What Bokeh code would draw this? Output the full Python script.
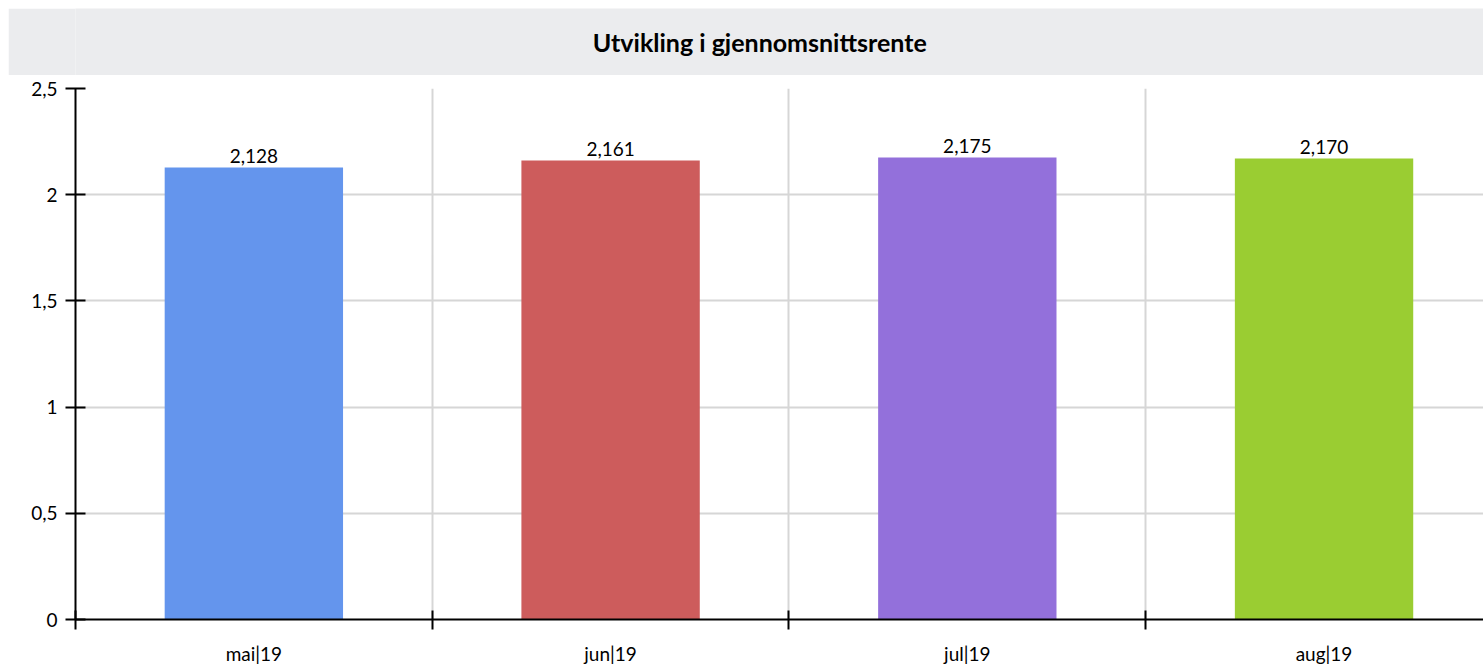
from bokeh.plotting import figure
from bokeh.models import FixedTicker, ColumnDataSource
from bokeh.layouts import column
from bokeh.embed import file_html
from bokeh.resources import INLINE
from bokeh.core.properties import value

title = "Utvikling i gjennomsnittsrente"
categories = ["mai|19", "jun|19", "jul|19", "aug|19"]
rates = [2.128, 2.161, 2.175, 2.170]
colors = ["#6495ED", "#CD5C5C", "#9370DB", "#9ACD32"]
y_ticks = [0, 0.5, 1, 1.5, 2, 2.5]
y_tick_labels = ["0", "0,5", "1", "1,5", "2", "2,5"]

FONT = "Lato"
FS = "19px"

# header band
h = figure(width=1475, height=67, x_range=(0, 1), y_range=(0, 1),
           output_backend="svg", toolbar_location=None,
           min_border=0, min_border_left=0, min_border_right=0,
           min_border_top=0, min_border_bottom=0)
h.axis.visible = False
h.grid.visible = False
h.outline_line_color = None
h.background_fill_color = "#EBECEE"
h.border_fill_color = "#EBECEE"
h.text(x=[0.486], y=[0.5], text=[title], text_align="center", text_baseline="middle",
       text_font=value(FONT), text_font_style="bold", text_font_size="25px", text_color="#000000")

# main chart
n = len(categories)
xs = [i + 0.5 for i in range(n)]
labels = [f"{v:.3f}".replace(".", ",") for v in rates]
src = ColumnDataSource(dict(x=xs, top=rates, color=colors, label=labels, cat=categories))

p = figure(width=1475, height=592, x_range=(0, 3.947), y_range=(0, 2.5),
           output_backend="svg", toolbar_location=None,
           min_border_left=67, min_border_right=0, min_border_top=13, min_border_bottom=46)
p.outline_line_color = None
p.background_fill_color = "white"
p.border_fill_color = "white"

p.vbar(x="x", top="top", bottom=0, width=0.5, color="color", line_color=None, source=src)
p.text(x="x", y="top", text="label", source=src, text_align="center", text_baseline="bottom",
       y_offset=-5, text_font=value(FONT), text_font_size=FS, text_color="#000000")

# x axis: labels at midpoints, minor ticks at boundaries
p.xaxis.ticker = FixedTicker(ticks=xs, minor_ticks=list(range(n)))
p.xaxis.major_label_overrides = {x: c for x, c in zip(xs, categories)}
p.xaxis.major_tick_in = 0
p.xaxis.major_tick_out = 0
p.xaxis.minor_tick_in = 9
p.xaxis.minor_tick_out = 10
p.xaxis.minor_tick_line_width = 2
p.xaxis.minor_tick_line_color = "black"
p.xaxis.axis_line_width = 2
p.xaxis.axis_line_color = "black"
p.xaxis.major_label_standoff = 12
p.xaxis.major_label_text_font = FONT
p.xaxis.major_label_text_font_size = FS
p.xaxis.major_label_text_color = "#000000"

p.xgrid.ticker = FixedTicker(ticks=list(range(n)))
p.xgrid.grid_line_color = "#D6D6D6"
p.xgrid.grid_line_width = 2

# y axis
p.yaxis.ticker = FixedTicker(ticks=y_ticks)
p.yaxis.major_label_overrides = {t: l for t, l in zip(y_ticks, y_tick_labels)}
p.yaxis.major_tick_in = 10
p.yaxis.major_tick_out = 10
p.yaxis.major_tick_line_width = 2
p.yaxis.major_tick_line_color = "black"
p.yaxis.minor_tick_line_color = None
p.yaxis.axis_line_width = 2
p.yaxis.axis_line_color = "black"
p.yaxis.major_label_standoff = 8
p.yaxis.major_label_text_font = FONT
p.yaxis.major_label_text_font_size = FS
p.yaxis.major_label_text_color = "#000000"

p.ygrid.grid_line_color = "#D6D6D6"
p.ygrid.grid_line_width = 2

layout = column(h, p, spacing=0, margin=(8, 0, 0, 8))
open("out.html", "w").write(file_html(layout, INLINE))
